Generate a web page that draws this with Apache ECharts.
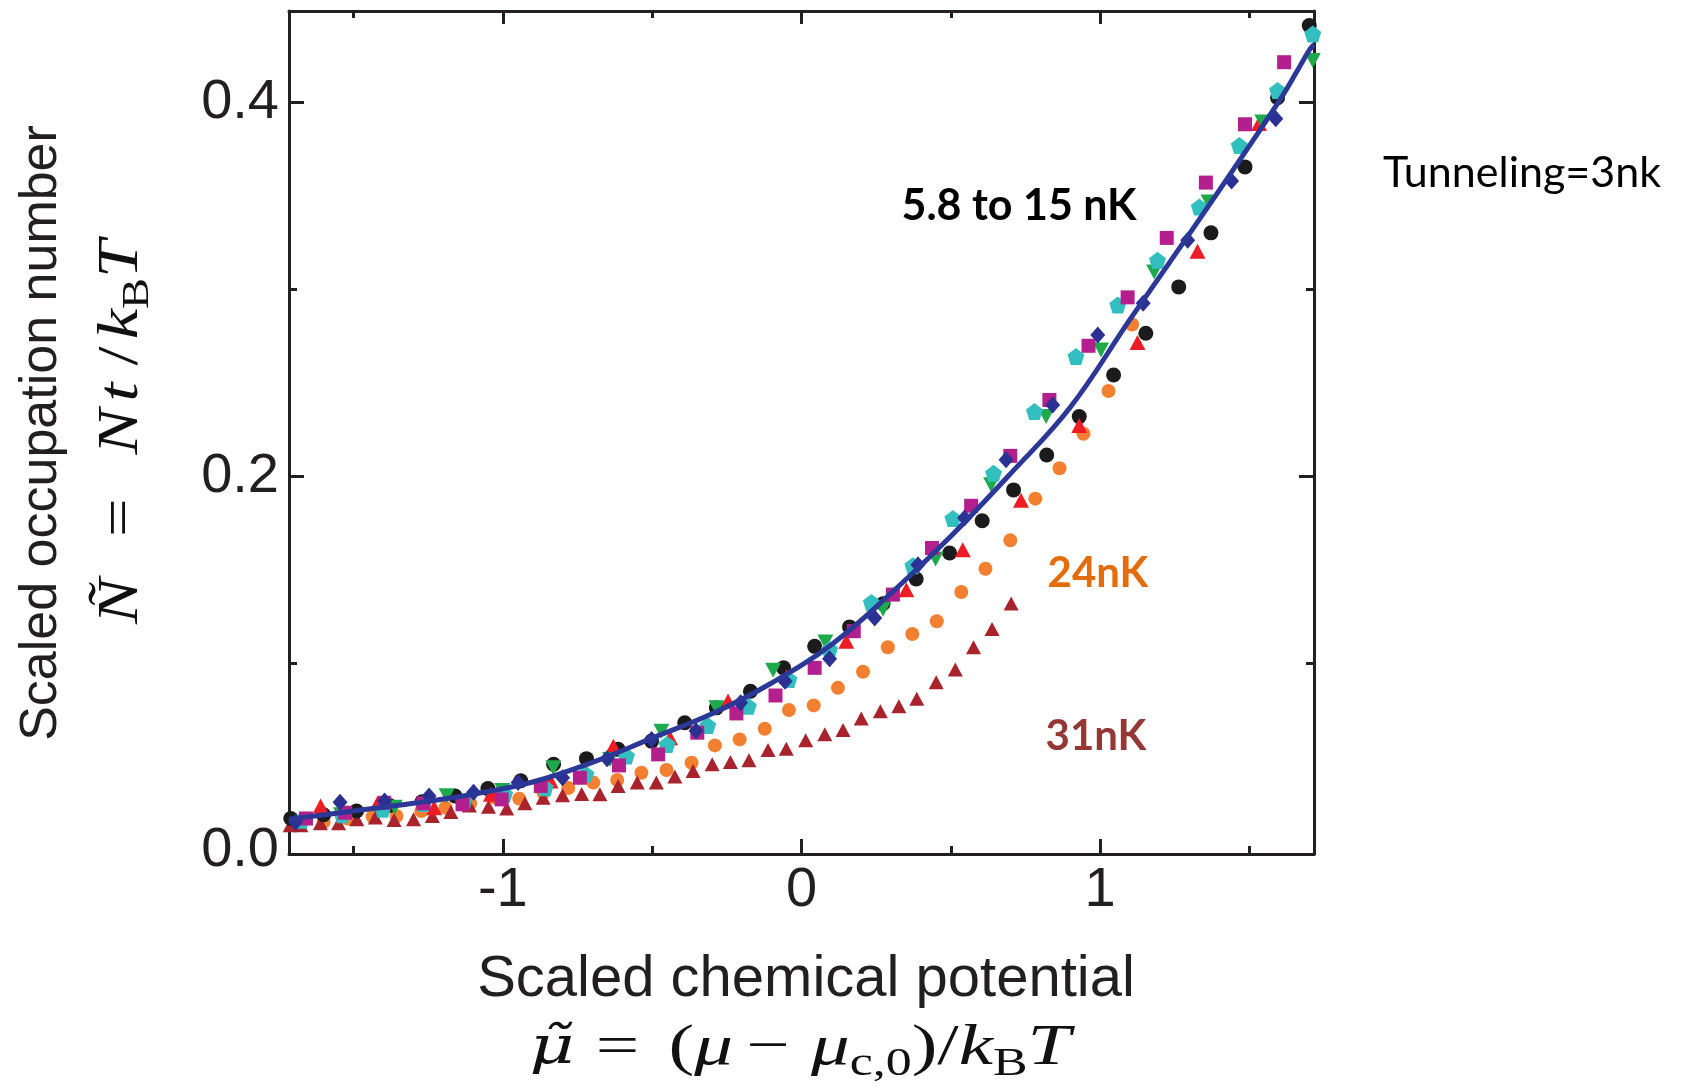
<!DOCTYPE html>
<html>
<head>
<meta charset="utf-8">
<script src="https://cdn.jsdelivr.net/npm/echarts@6/dist/echarts.min.js"></script>
<style>
  html, body { margin: 0; padding: 0; background: #ffffff; }
  #chart { width: 1682px; height: 1090px; }
</style>
</head>
<body>
<div id="chart"></div>
<script>
// Scaled chemical potential (x) and scaled occupation number (y) per data set.

// 5.8 to 15 nK group
const xBlack = [-1.71,-1.60,-1.49,-1.38,-1.27,-1.16,-1.05,-0.94,-0.83,-0.72,-0.614,-0.502,-0.391,-0.285,-0.171,-0.060,0.044,0.161,0.273,0.384,0.496,0.605,0.710,0.821,0.930,1.045,1.153,1.263,1.371,1.485,1.594,1.700];
const yBlack = [0.017,0.019,0.021,0.024,0.026,0.029,0.033,0.0372,0.046,0.049,0.054,0.0584,0.0682,0.0762,0.0851,0.0976,0.1091,0.1195,0.1319,0.1451,0.159,0.1763,0.1928,0.2115,0.232,0.2543,0.2766,0.3014,0.3303,0.3656,0.4026,0.4412];

const xRed = [-1.61,-1.42,-1.23,-1.04,-0.84,-0.63,-0.44,-0.246,-0.05,0.15,0.351,0.540,0.735,0.930,1.125,1.326,1.532];
const yRed = [0.0237,0.025,0.0228,0.030,0.037,0.0557,0.0602,0.0798,0.093,0.1118,0.1394,0.1608,0.1873,0.2272,0.2716,0.3205,0.3888];

const xGreen = [-1.542,-1.362,-1.188,-1.002,-0.831,-0.641,-0.469,-0.285,-0.095,0.080,0.273,0.449,0.635,0.819,1.003,1.181,1.363,1.543,1.712];
const yGreen = [0.019,0.023,0.0292,0.032,0.0442,0.0486,0.0637,0.0762,0.0963,0.1114,0.1289,0.1558,0.1955,0.232,0.2676,0.3094,0.3468,0.3896,0.4225];

const xCyan = [-1.674,-1.538,-1.402,-1.266,-1.130,-0.994,-0.858,-0.722,-0.586,-0.450,-0.314,-0.178,-0.042,0.094,0.234,0.373,0.507,0.643,0.780,0.919,1.059,1.192,1.332,1.466,1.594,1.712];
const yCyan = [0.016,0.019,0.022,0.025,0.026,0.030,0.0335,0.0406,0.0504,0.0566,0.0668,0.0771,0.0913,0.1074,0.1326,0.1522,0.1775,0.2017,0.2347,0.2641,0.2917,0.3157,0.3442,0.3771,0.4065,0.4367];

const xMagenta = [-1.659,-1.528,-1.397,-1.266,-1.135,-1.004,-0.873,-0.742,-0.611,-0.480,-0.349,-0.218,-0.087,0.044,0.175,0.306,0.437,0.568,0.699,0.830,0.961,1.092,1.223,1.354,1.485,1.616];
const yMagenta = [0.017,0.0201,0.0254,0.0251,0.0246,0.0272,0.0344,0.0388,0.0454,0.0513,0.0629,0.0732,0.0828,0.0976,0.1172,0.1368,0.1617,0.1843,0.211,0.2409,0.2699,0.2958,0.3276,0.3572,0.3884,0.4216];

const xDiamond = [-1.694,-1.545,-1.396,-1.247,-1.098,-0.949,-0.800,-0.651,-0.502,-0.353,-0.204,-0.055,0.094,0.245,0.390,0.546,0.685,0.841,0.992,1.144,1.293,1.440,1.588];
const yDiamond = [0.015,0.0257,0.0263,0.029,0.031,0.0362,0.0388,0.049,0.0593,0.064,0.0789,0.0904,0.1024,0.1243,0.1528,0.1778,0.2089,0.2382,0.2756,0.2926,0.3264,0.358,0.3914];

// 24 nK
const xOrange = [-1.683,-1.600,-1.519,-1.436,-1.356,-1.273,-1.192,-1.109,-1.028,-0.945,-0.864,-0.781,-0.697,-0.617,-0.536,-0.452,-0.368,-0.290,-0.207,-0.123,-0.042,0.041,0.122,0.206,0.289,0.371,0.453,0.535,0.616,0.699,0.783,0.864,0.944,1.028,1.107];
const yOrange = [0.0144,0.0151,0.0169,0.018,0.0183,0.021,0.0228,0.0251,0.0282,0.0276,0.0308,0.0333,0.0362,0.0376,0.0415,0.0429,0.0468,0.0561,0.0593,0.065,0.075,0.0775,0.0869,0.0955,0.1086,0.1157,0.1225,0.1382,0.1506,0.1658,0.1881,0.2044,0.2228,0.2457,0.2813];

// 31 nK
const xDarkRed = [-1.712,-1.676,-1.611,-1.550,-1.489,-1.427,-1.364,-1.299,-1.236,-1.174,-1.112,-1.048,-0.987,-0.926,-0.865,-0.800,-0.736,-0.675,-0.614,-0.550,-0.486,-0.424,-0.363,-0.299,-0.238,-0.176,-0.112,-0.051,0.014,0.078,0.139,0.200,0.264,0.326,0.386,0.451,0.515,0.576,0.638,0.702];
const yDarkRed = [0.0134,0.0134,0.0144,0.0144,0.0166,0.0175,0.0162,0.0166,0.0183,0.0205,0.024,0.0233,0.0223,0.0251,0.0281,0.0294,0.0301,0.0299,0.0344,0.0362,0.0362,0.0394,0.0424,0.046,0.0472,0.0482,0.0536,0.0543,0.0589,0.062,0.0643,0.0705,0.0744,0.0771,0.081,0.0899,0.0967,0.1086,0.1184,0.132];

// Theory curve
const xTheory = [-1.716,-1.5,-1.3,-1.1,-0.9,-0.7,-0.5,-0.3,-0.1,0.1,0.3,0.5,0.7,0.9,1.1,1.3,1.5,1.6,1.66,1.7,1.716];
const yTheory = [0.0166,0.021,0.0251,0.030,0.0365,0.047,0.060,0.073,0.0895,0.110,0.1375,0.168,0.2015,0.237,0.284,0.330,0.377,0.401,0.417,0.428,0.431];

// Axis ticks and labels
const xMajorTicks = [-1, 0, 1];
const xMinorTicks = [-1.5, -0.5, 0.5, 1.5];
const yLabelValues = [0, 0.2, 0.4];
const yMajorTicks = [0.2, 0.4];
const yMinorTicks = [0.1, 0.3];

const X_MIN = -1.716, X_MAX = 1.716, Y_MIN = -0.002, Y_MAX = 0.449;
const AXIS_COLOR = '#231f20';
const LABEL_FONT = 'Liberation Sans';

const pairs = (xs, ys) => xs.map((x, i) => [x, ys[i]]);

function xAxisDef(position, ticks, len, showLine, labels) {
  return {
    type: 'value', position, min: X_MIN, max: X_MAX,
    axisLine: { show: showLine, onZero: false, lineStyle: { color: AXIS_COLOR, width: 3 } },
    axisTick: { show: true, inside: true, length: len, customValues: ticks, lineStyle: { color: AXIS_COLOR, width: 3 } },
    axisLabel: labels ? {
      show: true, customValues: labels, fontSize: 56, fontFamily: LABEL_FONT, color: AXIS_COLOR, margin: 9,
      formatter: v => String(Math.round(v))
    } : { show: false },
    splitLine: { show: false }
  };
}

function yAxisDef(position, ticks, len, showLine, labels) {
  return {
    type: 'value', position, min: Y_MIN, max: Y_MAX,
    axisLine: { show: showLine, onZero: false, lineStyle: { color: AXIS_COLOR, width: 3 } },
    axisTick: { show: true, inside: true, length: len, customValues: ticks, lineStyle: { color: AXIS_COLOR, width: 3 } },
    axisLabel: labels ? {
      show: true, customValues: labels, fontSize: 56, fontFamily: LABEL_FONT, color: AXIS_COLOR, margin: 10,
      padding: [0, 0, 10, 0],
      formatter: v => v.toFixed(1)
    } : { show: false },
    splitLine: { show: false }
  };
}

const PENTAGON = 'path://M0,-1 L0.951,-0.309 L0.588,0.809 L-0.588,0.809 L-0.951,-0.309 Z';

function scatter(name, xs, ys, symbol, size, color, extra) {
  return Object.assign({
    name, type: 'scatter', xAxisIndex: 0, yAxisIndex: 0,
    data: pairs(xs, ys), symbol, symbolSize: size,
    itemStyle: { color, opacity: 1 }, silent: true
  }, extra || {});
}

// Math typesetting styles
const SERIF = 'Liberation Serif';
const mathRich = (size) => ({
  i: { fontFamily: SERIF, fontStyle: 'italic', fontSize: size, lineHeight: 70, fill: '#111' },
  r: { fontFamily: SERIF, fontSize: size, lineHeight: 70, fill: '#111' },
  m: { fontFamily: 'DejaVu Serif', fontStyle: 'italic', fontSize: size - 6, lineHeight: 70, fill: '#111' },
  s: { fontFamily: SERIF, fontSize: Math.round(size * 0.68), lineHeight: 40, verticalAlign: 'bottom', fill: '#111' }
});

const chart = echarts.init(document.getElementById('chart'), null, { renderer: 'canvas' });

chart.setOption({
  animation: false,
  backgroundColor: '#ffffff',
  grid: { left: 289, right: 368, top: 11, bottom: 236, containLabel: false },
  xAxis: [
    xAxisDef('bottom', xMajorTicks, 15, true, xMajorTicks),
    xAxisDef('bottom', xMinorTicks, 8, false, null),
    xAxisDef('top', xMajorTicks, 13, true, null),
    xAxisDef('top', xMinorTicks, 7, false, null)
  ],
  yAxis: [
    yAxisDef('left', yMajorTicks, 15, true, yLabelValues),
    yAxisDef('left', yMinorTicks, 8, false, null),
    yAxisDef('right', yMajorTicks, 15, true, null),
    yAxisDef('right', yMinorTicks, 8, false, null)
  ],
  series: [
    scatter('24 nK', xOrange, yOrange, 'circle', 14, '#f28030'),
    scatter('31 nK', xDarkRed, yDarkRed, 'triangle', [15, 14], '#a8232c'),
    scatter('black', xBlack, yBlack, 'circle', 15, '#1b1b1b'),
    scatter('red', xRed, yRed, 'triangle', [16, 15], '#ee1c25'),
    scatter('green', xGreen, yGreen, 'triangle', [16, 15], '#1eaa4c', { symbolRotate: 180 }),
    scatter('cyan', xCyan, yCyan, PENTAGON, 17, '#33bfc0'),
    scatter('magenta', xMagenta, yMagenta, 'rect', 14, '#b3208e'),
    scatter('diamond', xDiamond, yDiamond, 'diamond', [15, 17], '#2b3192'),
    {
      name: 'theory', type: 'line', xAxisIndex: 0, yAxisIndex: 0,
      data: pairs(xTheory, yTheory), smooth: 0.4, symbol: 'none',
      lineStyle: { color: '#2c3897', width: 5 }, z: 5, silent: true
    }
  ],
  graphic: [
    {
      type: 'text', x: 42, y: 433, rotation: Math.PI / 2,
      style: { text: 'Scaled occupation number', font: '52px "Liberation Sans"', fill: AXIS_COLOR, textAlign: 'center', textVerticalAlign: 'middle' }
    },
    {
      type: 'text', x: 122, y: 432, rotation: Math.PI / 2, scaleX: 1.22,
      style: {
        text: '{i1|Ñ}{r1|=}{i2|N}{i3|t}{r2|/}{i|k}{s|B}{i|T}',
        textAlign: 'center', textVerticalAlign: 'middle', fill: '#111',
        rich: Object.assign(mathRich(56), {
          i1: { fontFamily: SERIF, fontStyle: 'italic', fontSize: 56, lineHeight: 70, padding: [0, 34, 0, 0], fill: '#111' },
          r1: { fontFamily: SERIF, fontSize: 56, lineHeight: 70, padding: [0, 36, 0, 0], fill: '#111' },
          i2: { fontFamily: SERIF, fontStyle: 'italic', fontSize: 56, lineHeight: 70, padding: [0, 6, 0, 0], fill: '#111' },
          i3: { fontFamily: SERIF, fontStyle: 'italic', fontSize: 56, lineHeight: 70, padding: [0, 14, 0, 0], fill: '#111' },
          r2: { fontFamily: SERIF, fontSize: 56, lineHeight: 70, padding: [0, 6, 0, 0], fill: '#111' }
        })
      }
    },
    {
      type: 'text', x: 806, y: 980,
      style: { text: 'Scaled chemical potential', font: '58px "Liberation Sans"', fill: AXIS_COLOR, textAlign: 'center', textVerticalAlign: 'middle' }
    },
    {
      type: 'text', x: 800, y: 1049, scaleX: 1.33,
      style: {
        text: '{m|μ̃}{e|=}{r|(}{i|μ}{d|−}{i|μ}{s|c,0}{r|)/}{i|k}{s|B}{i|T}',
        textAlign: 'center', textVerticalAlign: 'middle', fill: '#111',
        rich: Object.assign(mathRich(58), {
          e: { fontFamily: SERIF, fontSize: 58, lineHeight: 70, padding: [0, 22, 0, 16], fill: '#111' },
          d: { fontFamily: SERIF, fontSize: 58, lineHeight: 70, padding: [0, 16, 0, 10], fill: '#111' }
        })
      }
    },
    {
      type: 'text', x: 1019, y: 206,
      style: { text: '5.8 to 15 nK', font: 'bold 43px Lato', fill: '#000', textAlign: 'center', textVerticalAlign: 'middle' }
    },
    {
      type: 'text', x: 1098, y: 573,
      style: { text: '24nK', font: 'bold 42px Lato', fill: '#e46c0a', textAlign: 'center', textVerticalAlign: 'middle' }
    },
    {
      type: 'text', x: 1096, y: 736,
      style: { text: '31nK', font: 'bold 42px Lato', fill: '#953735', textAlign: 'center', textVerticalAlign: 'middle' }
    },
    {
      type: 'text', x: 1522, y: 173,
      style: { text: 'Tunneling=3nk', font: '43px Lato', fill: '#000', textAlign: 'center', textVerticalAlign: 'middle' }
    }
  ]
});
</script>
</body>
</html>
